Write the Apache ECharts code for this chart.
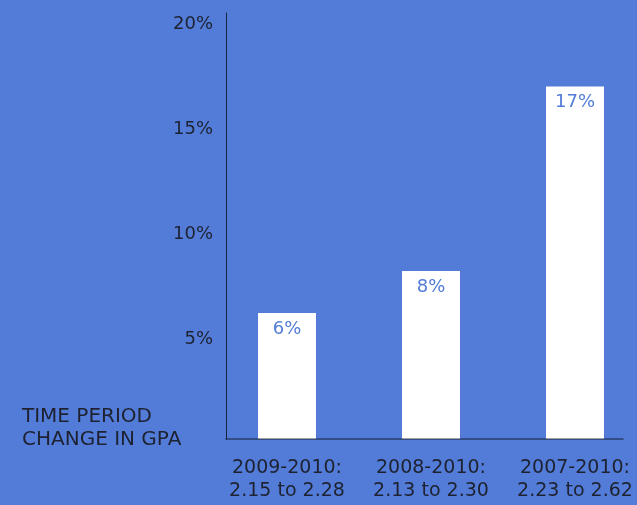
<!DOCTYPE html>
<html>
<head>
<meta charset="utf-8">
<script src="https://cdn.jsdelivr.net/npm/echarts@6/dist/echarts.min.js"></script>
<style>
html,body{margin:0;padding:0;background:#527cd8;}
#chart{width:637px;height:505px;}
</style>
</head>
<body>
<div id="chart"></div>
<script>
// Data
var periods = ['2009-2010:', '2008-2010:', '2007-2010:'];
var gpaRanges = ['2.15 to 2.28', '2.13 to 2.30', '2.23 to 2.62'];
var changePct = [6, 8, 16.8];
var yTickLabels = ['5%', '10%', '15%', '20%'];
var axisTitle = ['TIME PERIOD', 'CHANGE IN GPA'];

var categories = periods.map(function (p, i) { return p + '\n' + gpaRanges[i]; });
var FONT = '"DejaVu Sans", sans-serif';
var TEXT = '#1e2230';
var yMax = 20.3;

var chart = echarts.init(document.getElementById('chart'));
chart.setOption({
  backgroundColor: '#527cd8',
  animation: false,
  textStyle: { fontFamily: FONT },
  grid: [
    { left: 287, right: 62, top: 13, bottom: 66 },
    { left: 226, right: 14, top: 13, bottom: 66 }
  ],
  xAxis: [
    {
      gridIndex: 0, type: 'category', data: categories, boundaryGap: false,
      axisLine: { show: false }, axisTick: { show: false }, splitLine: { show: false },
      axisLabel: { interval: 0, color: TEXT, fontSize: 19, lineHeight: 23, margin: 18, fontFamily: FONT }
    },
    {
      gridIndex: 1, type: 'value', min: 0, max: 1, z: 5,
      axisLine: { show: true, lineStyle: { color: 'rgba(0,0,0,0.5)', width: 1.5 } },
      axisTick: { show: false }, axisLabel: { show: false }, splitLine: { show: false }
    }
  ],
  yAxis: [
    {
      gridIndex: 0, type: 'value', min: 0, max: yMax, interval: 5, show: false
    },
    {
      gridIndex: 1, type: 'value', min: 0, max: yMax, interval: 5, z: 5,
      axisLine: { show: true, lineStyle: { color: 'rgba(0,0,0,0.7)', width: 1 } },
      axisTick: { show: false }, splitLine: { show: false },
      axisLabel: {
        color: TEXT, fontSize: 18, margin: 13, fontFamily: FONT,
        formatter: function (v) {
          var s = v + '%';
          return yTickLabels.indexOf(s) >= 0 ? '{a|' + s + '}' : '';
        },
        rich: { a: { color: TEXT, fontSize: 18, fontFamily: FONT, padding: [10, 0, 0, 0] } }
      }
    }
  ],
  graphic: [
    {
      type: 'text', left: 22, top: 405,
      style: {
        text: axisTitle.join('\n'), fill: TEXT,
        font: '20px ' + FONT, lineHeight: 23
      }
    }
  ],
  series: [
    {
      type: 'bar', xAxisIndex: 0, yAxisIndex: 0,
      data: changePct, barWidth: 58,
      itemStyle: { color: '#ffffff' },
      label: {
        show: true, position: 'insideTop', distance: 7,
        color: '#527cd8', fontSize: 18, fontFamily: FONT,
        formatter: function (p) { return Math.round(p.value) + '%'; }
      }
    }
  ]
});
</script>
</body>
</html>
